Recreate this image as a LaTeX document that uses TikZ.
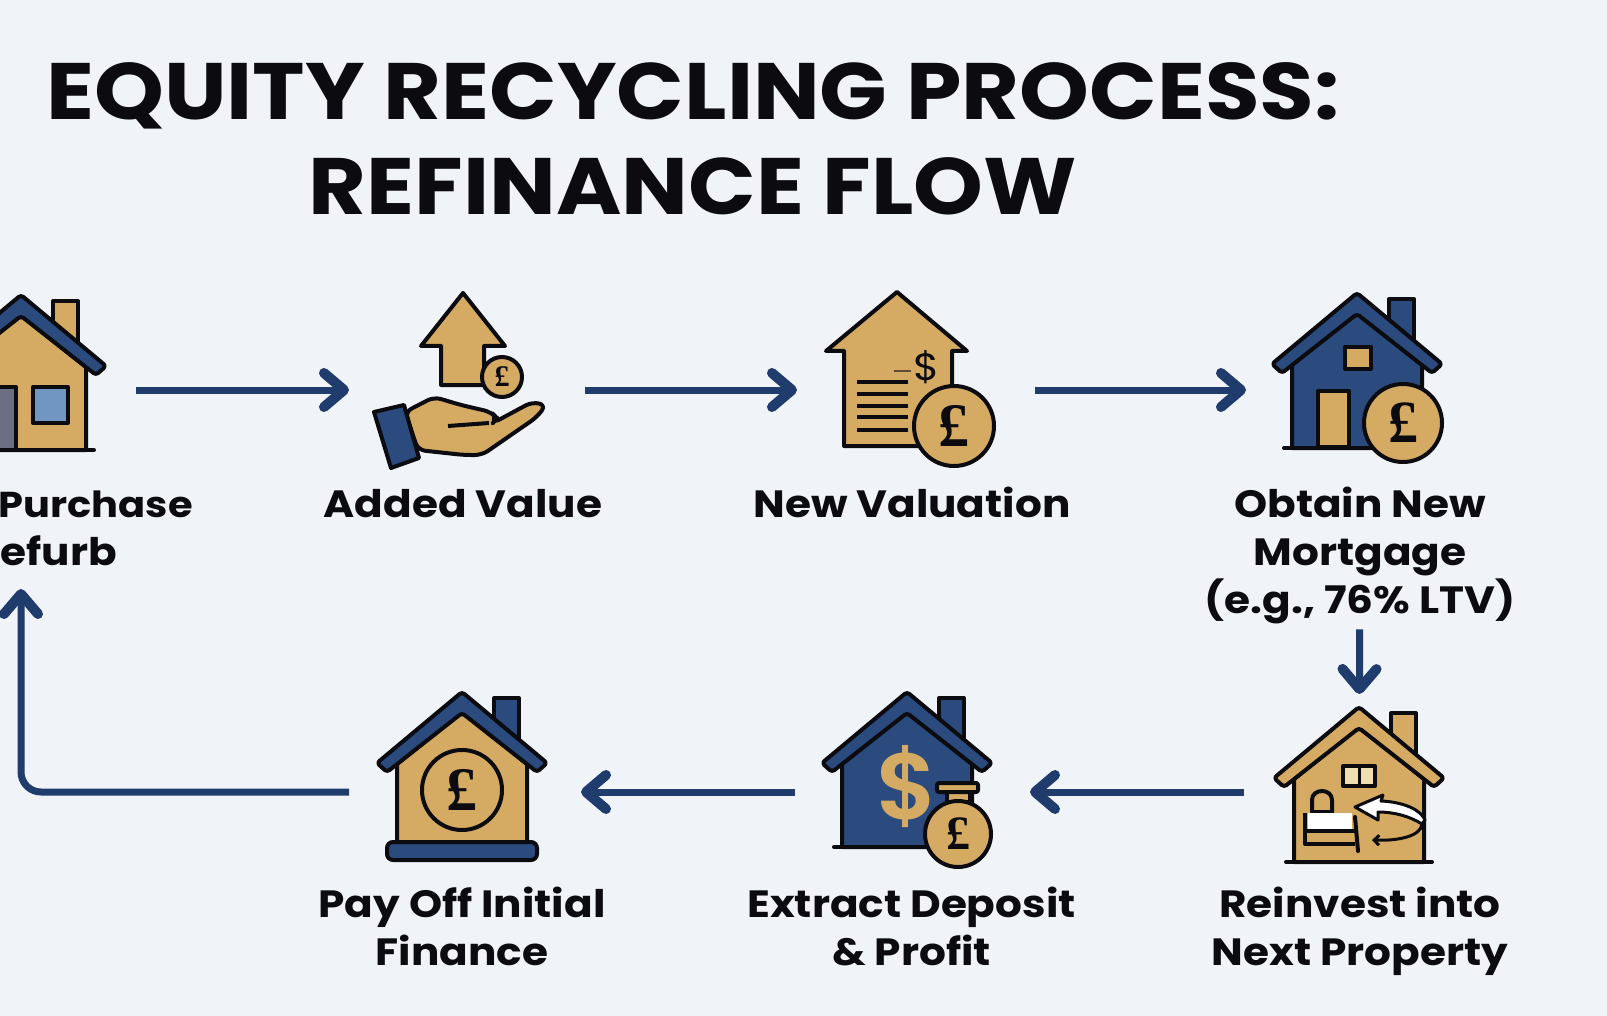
\documentclass[tikz,border=0pt]{standalone}
\usepackage{fontspec}
\setmainfont{Poppins}[FakeStretch=1.11]
\newfontfamily\coinfont{Liberation Serif}
\newfontfamily\dollarfont{Poppins SemiBold}
\usetikzlibrary{arrows.meta,positioning}

\definecolor{paper}{HTML}{F0F3F7}
\definecolor{gold}{HTML}{D5AB63}
\definecolor{navy}{HTML}{2B4A7D}
\definecolor{arrownavy}{HTML}{203C6C}
\definecolor{ink}{HTML}{0C0C10}
\definecolor{glass}{HTML}{7196C2}
\definecolor{slate}{HTML}{6B6F82}
\definecolor{pane}{HTML}{F0DDB0}

\tikzset{
  iconbox/.style={on grid, minimum height=196pt, inner sep=0pt, outer sep=0pt},
  titletext/.style={font=\fontsize{80}{95}\selectfont\bfseries, text=ink, align=center, inner sep=0pt},
  labeltext/.style={font=\fontsize{38}{48}\selectfont\bfseries, text=ink, align=center, inner sep=0pt},
  flowarrow/.style={draw=arrownavy, line width=7pt, -{Straight Barb[length=20pt,width=34pt,line width=10pt,round]}},
  outline/.style={draw=ink, line width=4pt, line join=round},
  coin/.style={circle, outline, fill=gold, inner sep=0pt, text=ink, font=\coinfont\bfseries\fontsize{#1}{#1}\selectfont},
  pics/houseicon/.style args={#1/#2/#3}{code={
    \draw[outline, fill=#3] (32,6) rectangle (57,55);
    \draw[outline, fill=#1] (0,20) -- (65,72) -- (65,155) -- (-65,155) -- (-65,72) -- cycle;
    \draw[outline, line cap=round] (-73,155) -- (73,155);
    \draw[outline, fill=#2, rounded corners=3pt] (0,0) -- (85,71) -- (75,80) -- (0,21) -- (-75,80) -- (-85,71) -- cycle;
  }}
}

\begin{document}
\begin{tikzpicture}[x=1pt, y=-1pt]
   \fill[paper] (0,0) rectangle (1607,1016);
   \useasboundingbox (0,0) rectangle (1607,1016);

   \node[titletext] (title) at (693,139) {EQUITY RECYCLING PROCESS:\\REFINANCE FLOW};

   % top row
   \node[iconbox, minimum width=230pt] (purchase) at (21,390) {};
   \node[iconbox, minimum width=236pt] (added) [right = 446pt of purchase] {};
   \node[iconbox, minimum width=238pt] (valuation) [right = 449pt of added] {};
   \node[iconbox, minimum width=226pt] (mortgage) [right = 443pt of valuation] {};
   % bottom row
   \node[iconbox, minimum width=230pt] (reinvest) [below = 402pt of mortgage] {};
   \node[iconbox, minimum width=235pt] (extract) [left = 446.5pt of reinvest] {};
   \node[iconbox, minimum width=232pt] (payoff) [left = 447.5pt of extract] {};
   \coordinate (looptip) at (21,589);

   % labels
   \node[labeltext, anchor=base east, font=\fontsize{36}{48}\selectfont\bfseries] (purchasetext) at (193,517) {Purchase};
   \node[labeltext, anchor=base east] (refurbtext) at (117,565) {efurb};
   \node[labeltext, xshift=-4pt] (addedtext) [below = 99pt of added.center] {Added Value};
   \node[labeltext, xshift=-4pt] (valuationtext) [below = 97pt of valuation.center] {New Valuation};
   \node[labeltext, xshift=1pt] (mortgagetext) [below = 97pt of mortgage.center] {Obtain New\\Mortgage\\(e.g., 76\% LTV)};
   \node[labeltext, xshift=1pt] (reinvesttext) [below = 95pt of reinvest.center] {Reinvest into\\Next Property};
   \node[labeltext, xshift=-1pt] (extracttext) [below = 95pt of extract.center] {Extract Deposit\\\& Profit};
   \node[labeltext, xshift=-3pt] (payofftext) [below = 95pt of payoff.center] {Pay Off Initial\\Finance};

   % icons
   \begin{scope}[shift={(purchase.center)}]
     \pic at (0,-95) {houseicon={gold/navy/gold}};
     \draw[outline, fill=slate] (-40,-3) rectangle (-5,60);
     \draw[outline, fill=glass] (12,-3) rectangle (47,33);
   \end{scope}

   \begin{scope}[shift={(added.center)}]
     \draw[outline, fill=gold] (-4,-97) -- (38,-44) -- (17,-44) -- (17,-5) -- (-26,-5) -- (-26,-44) -- (-46,-44) -- cycle;
     \node[coin=30, minimum size=40pt] (addedcoin) at (35,-13) {£};
     \draw[outline, fill=gold, rounded corners=7pt] (-62,22) -- (-33,7) -- (-6,15) -- (24,22) -- (30,28) -- (26,33) -- (65,12) -- (79,15) -- (70,27) -- (15,65) -- (-3,65) -- (-49,60) -- cycle;
     \draw[outline] (-19,36) -- (22,33);
     \draw[outline, fill=navy] (-93,22) -- (-63,15) -- (-48,68) -- (-76,78) -- cycle;
   \end{scope}

   \begin{scope}[shift={(valuation.center)}]
     \draw[outline, fill=gold] (-19,-98) -- (51,-39) -- (36,-39) -- (36,56) -- (-72,56) -- (-72,-39) -- (-90,-39) -- cycle;
     \foreach \liney in {-8,4,16,27,40}
       \draw[ink, line width=4pt] (-59,\liney) -- (-8,\liney);
     \draw[ink!60!gold, line width=2pt] (-22,-19) -- (-5,-19);
     \node[text=ink, font=\fontsize{38}{38}\selectfont] (valuationdollar) at (11,-23) {\$};
     \node[coin=62, minimum size=80pt] (valuationcoin) at (38,36) {£};
   \end{scope}

   \begin{scope}[shift={(mortgage.center)}]
     \pic at (-2,-97) {houseicon={navy/navy/navy}};
     \draw[outline, fill=gold] (-14,-43) rectangle (12,-21);
     \draw[outline, fill=gold] (-41,1) rectangle (-10,57);
     \node[coin=60, minimum size=78pt] (mortgagecoin) at (44,33) {£};
   \end{scope}

   \begin{scope}[shift={(reinvest.center)}]
     \pic at (0,-85) {houseicon={gold/gold/gold}};
     \draw[outline, fill=pane] (-16,-26) rectangle (16,-6);
     \draw[ink, line width=3pt] (0,-26) -- (0,-6);
     \draw[outline, fill=gold] (-47,20) -- (-47,8) .. controls (-47,-4) and (-27,-4) .. (-27,8) -- (-27,20) -- cycle;
     \fill[white] (-51,21) rectangle (-7,39);
     \draw[outline] (-54,21) -- (-54,52) -- (-4,52);
     \draw[outline] (-54,39) -- (-4,39);
     \draw[outline, line cap=round] (-4,25) -- (-1,59);
     \draw[ink, line width=3pt, fill=white, line join=round] (-4,15) -- (24,3) -- (22,9) .. controls (45,10) and (62,18) .. (66,28) -- (63,32) .. controls (50,24) and (35,20) .. (19,20) -- (19,28) -- cycle;
     \draw[ink, line width=3pt, -{Straight Barb[length=5pt,width=10pt]}] (63,32) .. controls (62,44) and (40,49) .. (13,48);
   \end{scope}

   \begin{scope}[shift={(extract.center)}]
     \pic at (-5.5,-100) {houseicon={navy/navy/navy}};
     \node[text=gold, font=\dollarfont\fontsize{94}{94}\selectfont] (extractdollar) at (-5.5,-5) {\$};
     \draw[outline, fill=gold] (34.5,0) rectangle (57.5,10);
     \node[coin=48, minimum size=66pt] (bagcoin) at (45.5,42) {£};
     \draw[outline, fill=gold, rounded corners=2pt] (24.5,-9) rectangle (65.5,0);
   \end{scope}

   \begin{scope}[shift={(payoff.center)}]
     \pic at (-3,-100) {houseicon={gold/navy/navy}};
     \node[coin=62, minimum size=80pt] (payoffcoin) at (-3,-2) {£};
     \draw[outline, fill=navy, rounded corners=6pt] (-78,50) rectangle (72,68);
   \end{scope}

   % connectors
   \path[flowarrow] (purchase) -- (added);
   \path[flowarrow] (added) -- (valuation);
   \path[flowarrow] (valuation) -- (mortgage);
   \path[flowarrow, shorten <=5pt] (mortgagetext) -- (reinvest);
   \path[flowarrow] (reinvest) -- (extract);
   \path[flowarrow] (extract) -- (payoff);
   \path[flowarrow, rounded corners=20pt] (payoff) -| (looptip);
\end{tikzpicture}
\end{document}
